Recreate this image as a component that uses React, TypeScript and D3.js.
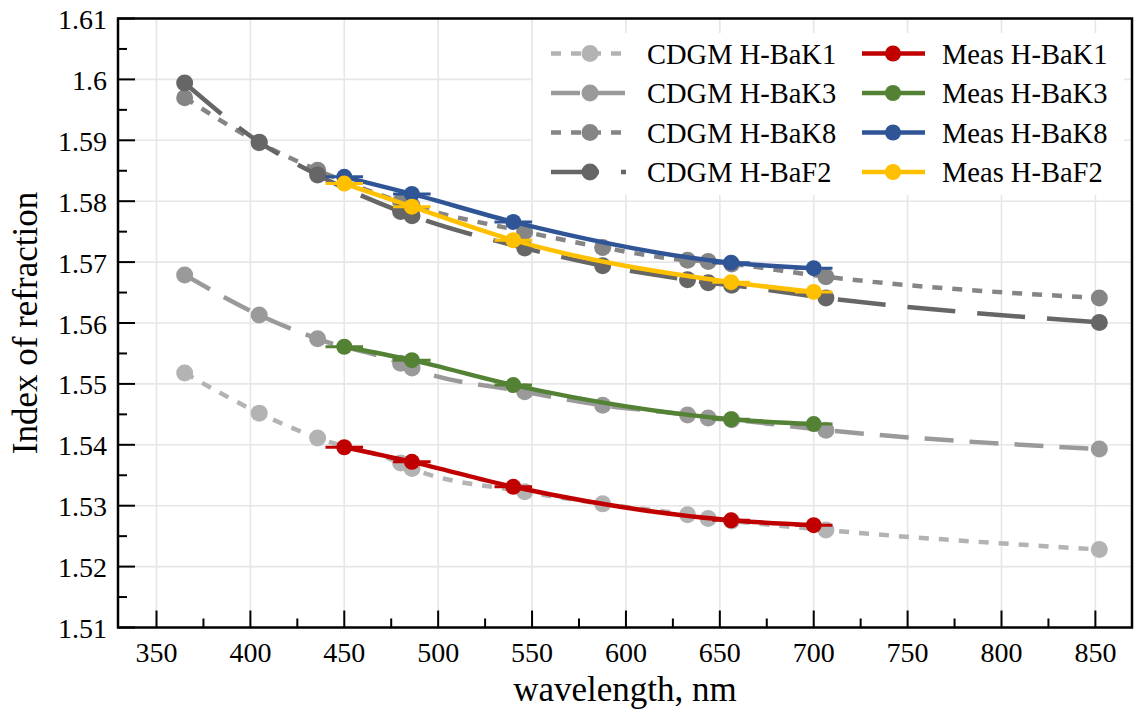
import React from 'react';
import * as d3 from 'd3';

// ---------- data ----------
const cdgmWavelengths = [365.0, 404.7, 435.8, 480.0, 486.1, 546.1, 587.6, 632.8, 643.8, 656.3, 706.5, 852.1];
const cdgmBaK1 = [1.5518, 1.5452, 1.5411, 1.5370, 1.5361, 1.5323, 1.5303, 1.5285, 1.5279, 1.5275, 1.5260, 1.5228];
const cdgmBaK3 = [1.5679, 1.5613, 1.5574, 1.5534, 1.5526, 1.5487, 1.5465, 1.5449, 1.5444, 1.5441, 1.5424, 1.5393];
const cdgmBaK8 = [1.5970, 1.5896, 1.5851, 1.5799, 1.5793, 1.5750, 1.5724, 1.5703, 1.5701, 1.5697, 1.5676, 1.5641];
const cdgmBaF2 = [1.5994, 1.5897, 1.5843, 1.5783, 1.5776, 1.5723, 1.5694, 1.5671, 1.5666, 1.5662, 1.5641, 1.5601];

const measWavelengths = [450, 486, 540, 656, 700];
const measBaK1 = [1.5396, 1.5372, 1.5331, 1.5276, 1.5268];
const measBaK3 = [1.5561, 1.5539, 1.5498, 1.5442, 1.5434];
const measBaK8 = [1.5840, 1.5812, 1.5766, 1.5699, 1.5690];
const measBaF2 = [1.5829, 1.5791, 1.5736, 1.5667, 1.5651];
const measXErr = 10;

const cdgmNames = ['CDGM H-BaK1', 'CDGM H-BaK3', 'CDGM H-BaK8', 'CDGM H-BaF2'];
const measNames = ['Meas H-BaK1', 'Meas H-BaK3', 'Meas H-BaK8', 'Meas H-BaF2'];

const xTicks = [350, 400, 450, 500, 550, 600, 650, 700, 750, 800, 850];
const xTickLabels = ['350', '400', '450', '500', '550', '600', '650', '700', '750', '800', '850'];
const xMinorTicks = [375, 425, 475, 525, 575, 625, 675, 725, 775, 825];
const yTicks = [1.51, 1.52, 1.53, 1.54, 1.55, 1.56, 1.57, 1.58, 1.59, 1.6, 1.61];
const yTickLabels = ['1.51', '1.52', '1.53', '1.54', '1.55', '1.56', '1.57', '1.58', '1.59', '1.6', '1.61'];
const yMinorTicks = [1.515, 1.525, 1.535, 1.545, 1.555, 1.565, 1.575, 1.585, 1.595, 1.605];

// ---------- styles ----------
const cdgmColors = ['#b3b3b3', '#9a9a9a', '#858585', '#666666'];
const cdgmDash = ['10,10', '29,16', '10,10', '48,22'];
const measColors = ['#c00000', '#548235', '#2f5597', '#ffc000'];

const W = 1136;
const H = 713;
const left = 118;
const right = 1132;
const top = 18.5;
const bottom = 627.5;
const FONT = '"Liberation Serif", "Times New Roman", serif';

export default function App() {
  const x = d3.scaleLinear().domain([329.5, 869.5]).range([left, right]);
  const y = d3.scaleLinear().domain([1.51, 1.61]).range([bottom, top]);

  const cdgmSeries = [cdgmBaK1, cdgmBaK3, cdgmBaK8, cdgmBaF2];
  const measSeries = [measBaK1, measBaK3, measBaK8, measBaF2];

  const cdgmLine = d3
    .line<[number, number]>()
    .x((d) => x(d[0]))
    .y((d) => y(d[1]))
    .curve(d3.curveMonotoneX);
  const measLine = d3
    .line<[number, number]>()
    .x((d) => x(d[0]))
    .y((d) => y(d[1]))
    .curve(d3.curveMonotoneX);

  const legendRowY = (i: number) => 53.5 + i * 39.5;

  return (
    <svg
      width={W}
      height={H}
      style={{ position: 'absolute', left: 0, top: 0, display: 'block', background: '#fff' }}
      fontFamily={FONT}
    >
      <rect x={0} y={0} width={W} height={H} fill="#fff" />
      {/* grid */}
      <g stroke="#e6e6e6" strokeWidth={1.6}>
        {xTicks.map((t) => (
          <line key={'gx' + t} x1={x(t)} x2={x(t)} y1={top} y2={bottom} />
        ))}
        {yTicks.map((t) => (
          <line key={'gy' + t} x1={left} x2={right} y1={y(t)} y2={y(t)} />
        ))}
      </g>

      {/* legend background */}
      <rect x={533} y={33} width={591} height={162} fill="#fff" />

      {/* CDGM series */}
      {cdgmSeries.map((vals, si) => {
        const pts = cdgmWavelengths.map((w, i) => [w, vals[i]] as [number, number]);
        return (
          <g key={'c' + si}>
            <path
              d={cdgmLine(pts) || ''}
              fill="none"
              stroke={cdgmColors[si]}
              strokeWidth={4.5}
              strokeDasharray={cdgmDash[si]}
            />
            {pts.map((p, i) => (
              <circle key={i} cx={x(p[0])} cy={y(p[1])} r={8.5} fill={cdgmColors[si]} />
            ))}
          </g>
        );
      })}

      {/* Measured series */}
      {measSeries.map((vals, si) => {
        const pts = measWavelengths.map((w, i) => [w, vals[i]] as [number, number]);
        return (
          <g key={'m' + si}>
            <path d={measLine(pts) || ''} fill="none" stroke={measColors[si]} strokeWidth={4.5} />
            {pts.map((p, i) => (
              <line
                key={'e' + i}
                x1={x(p[0] - measXErr)}
                x2={x(p[0] + measXErr)}
                y1={y(p[1])}
                y2={y(p[1])}
                stroke={measColors[si]}
                strokeWidth={3}
              />
            ))}
            {pts.map((p, i) => (
              <circle key={i} cx={x(p[0])} cy={y(p[1])} r={8} fill={measColors[si]} />
            ))}
          </g>
        );
      })}

      {/* legend */}
      {cdgmNames.map((n, i) => (
        <g key={'lc' + i}>
          <line
            x1={551}
            x2={626}
            y1={legendRowY(i)}
            y2={legendRowY(i)}
            stroke={cdgmColors[i]}
            strokeWidth={4.5}
            strokeDasharray={cdgmDash[i]}
          />
          <circle cx={590} cy={legendRowY(i)} r={8.5} fill={cdgmColors[i]} />
          <text x={647} y={legendRowY(i) + 10} fontSize={28.5} fill="#000">
            {n}
          </text>
        </g>
      ))}
      {measNames.map((n, i) => (
        <g key={'lm' + i}>
          <line
            x1={862}
            x2={925}
            y1={legendRowY(i)}
            y2={legendRowY(i)}
            stroke={measColors[i]}
            strokeWidth={4.5}
          />
          <circle cx={893} cy={legendRowY(i)} r={8} fill={measColors[i]} />
          <text x={942} y={legendRowY(i) + 10} fontSize={28.5} fill="#000">
            {n}
          </text>
        </g>
      ))}

      {/* ticks */}
      <g stroke="#000" strokeWidth={2}>
        {xTicks.map((t) => (
          <line key={'tx' + t} x1={x(t)} x2={x(t)} y1={bottom} y2={bottom - 17} />
        ))}
        {xMinorTicks.map((t) => (
          <line key={'mx' + t} x1={x(t)} x2={x(t)} y1={bottom} y2={bottom - 9} />
        ))}
        {yTicks.map((t) => (
          <line key={'ty' + t} x1={left} x2={left + 17} y1={y(t)} y2={y(t)} />
        ))}
        {yMinorTicks.map((t) => (
          <line key={'my' + t} x1={left} x2={left + 9} y1={y(t)} y2={y(t)} />
        ))}
      </g>

      {/* frame */}
      <rect
        x={left}
        y={top}
        width={right - left}
        height={bottom - top}
        fill="none"
        stroke="#000"
        strokeWidth={2.5}
      />

      {/* tick labels */}
      {xTicks.map((t, i) => (
        <text key={'lx' + t} x={x(t)} y={662} fontSize={28} textAnchor="middle" fill="#000">
          {xTickLabels[i]}
        </text>
      ))}
      {yTicks.map((t, i) => (
        <text key={'ly' + t} x={107} y={y(t) + 10.5} fontSize={28} textAnchor="end" fill="#000">
          {yTickLabels[i]}
        </text>
      ))}

      {/* axis labels */}
      <text x={(left + right) / 2} y={701} fontSize={35} textAnchor="middle" fill="#000">
        wavelength, nm
      </text>
      <text
        transform={`translate(37, ${(top + bottom) / 2}) rotate(-90)`}
        fontSize={35}
        textAnchor="middle"
        fill="#000"
      >
        Index of refraction
      </text>
    </svg>
  );
}
